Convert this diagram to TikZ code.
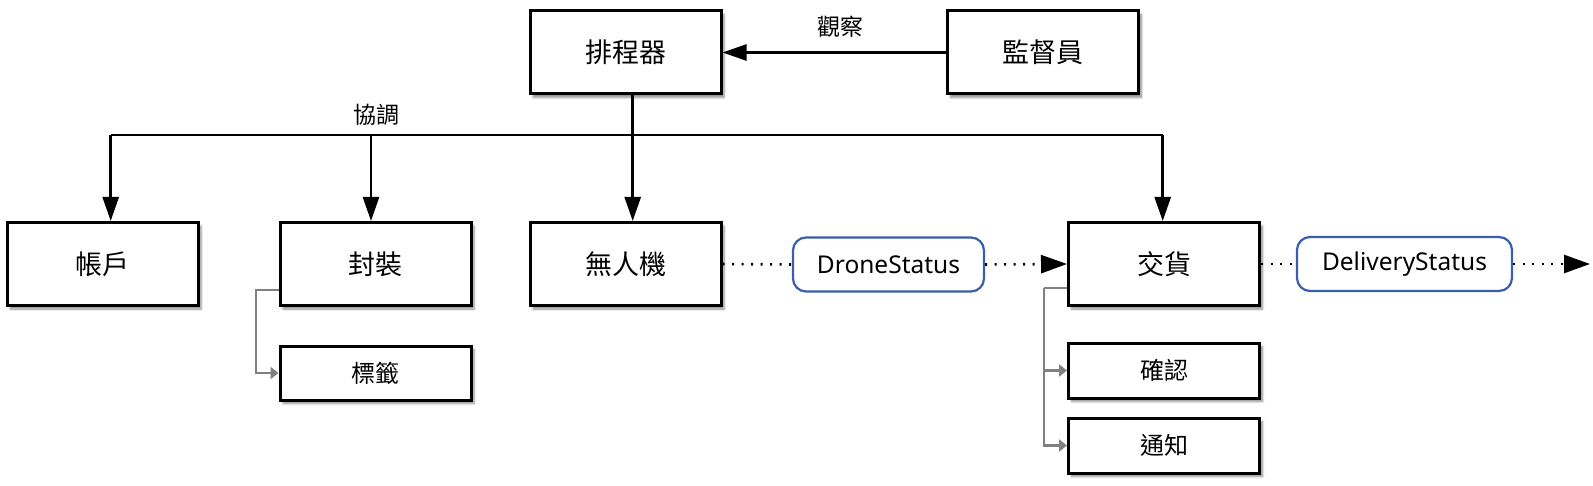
\documentclass[tikz,border=0pt]{standalone}
\usepackage{fontspec}
\setmainfont{Noto Sans CJK TC}
\newfontfamily\latinfont{Noto Sans}
\usetikzlibrary{arrows.meta,shadows.blur,calc}
\definecolor{stblue}{HTML}{3A5DAE}
\definecolor{conngray}{HTML}{808080}
\tikzset{
  shadowed/.style={blur shadow={shadow xshift=3pt,shadow yshift=-3.5pt,shadow blur steps=6,shadow opacity=45}},
  bigbox/.style={draw=black,line width=3pt,fill=white,minimum width=191pt,minimum height=83pt,inner sep=0pt,shadowed,font=\fontsize{27}{32}\selectfont},
  smallbox/.style={draw=black,line width=3pt,fill=white,minimum width=191pt,minimum height=54pt,inner sep=0pt,shadowed,font=\fontsize{24}{28}\selectfont},
  statusbox/.style={draw=stblue,line width=2.2pt,fill=white,rounded corners=13pt,minimum height=54pt,inner sep=0pt,font=\latinfont\fontsize{24.5}{28}\selectfont},
  lbl/.style={font=\fontsize{23}{27}\selectfont,inner sep=0pt},
  conn/.style={line width=2.6pt,draw=black},
  arr/.style={conn,-{Triangle[length=24pt,width=16pt]}},
  dotline/.style={line width=2.6pt,draw=black,dash pattern=on 2pt off 7.5pt},
  dotarr/.style={dotline,-{Triangle[length=26pt,width=18pt]}},
  garr/.style={line width=2.2pt,draw=conngray,-{Triangle[length=8pt,width=12pt]}}
}
\begin{document}
\begin{tikzpicture}[x=1pt,y=-1pt]
\useasboundingbox (0,0) rectangle (1593,486);
% nodes
\node[bigbox] (sched) at (625.5,52.5) {排程器};
\node[bigbox] (superv) at (1043,52.5) {監督員};
\node[bigbox] (acct) at (102.5,264) {帳戶};
\node[bigbox] (pkg) at (375.5,264) {封裝};
\node[bigbox] (drone) at (625.5,264) {無人機};
\node[bigbox] (deliv) at (1164,264) {交貨};
\node[smallbox] (label) at (375.5,373) {標籤};
\node[smallbox,minimum height=55pt] (confirm) at (1164,370.5) {確認};
\node[smallbox,minimum height=55pt] (notify) at (1164,445.5) {通知};
\node[statusbox,minimum width=191pt] (dstat) at (888.5,264.5) {DroneStatus};
\node[statusbox,minimum width=215pt] (vstat) at (1404.5,264) {DeliveryStatus};
\node[lbl] (obs) at (840,27) {觀察};
\node[lbl] (coord) at (376.7,115) {協調};
% observe
\draw[arr] (superv.west) -- (sched.east);
% coordination bus
\coordinate (busL) at (110.7,135);
\coordinate (busP) at (371,135);
\coordinate (busR) at (1162.7,135);
\coordinate (schedOut) at ($(sched.south)+(7.2,0)$);
\draw[conn] (busL) -- (busR);
\draw[arr] (busL) -- (busL |- acct.north);
\draw[arr] (busP) -- (busP |- pkg.north);
\draw[arr] (schedOut) -- (schedOut |- drone.north);
\draw[arr] (busR) -- (busR |- deliv.north);
% status flow
\coordinate (flowEnd) at (1590,264);
\draw[dotline] (drone.east) -- (dstat.west);
\draw[dotarr] (dstat.east) -- (deliv.west);
\draw[dotline] (deliv.east) -- (vstat.west);
\draw[dotarr] (vstat.east) -- (flowEnd);
% sub components
\coordinate (pkgCorner) at ($(pkg.west)+(-22.5,26)$);
\draw[garr] ($(pkg.west)+(0,26)$) -- (pkgCorner) |- (label.west);
\coordinate (delCorner) at ($(deliv.west)+(-23,24)$);
\draw[line width=2.2pt,draw=conngray] ($(deliv.west)+(0,24)$) -- (delCorner);
\draw[garr] (delCorner) |- (confirm.west);
\draw[garr] (delCorner) |- (notify.west);
\end{tikzpicture}
\end{document}
